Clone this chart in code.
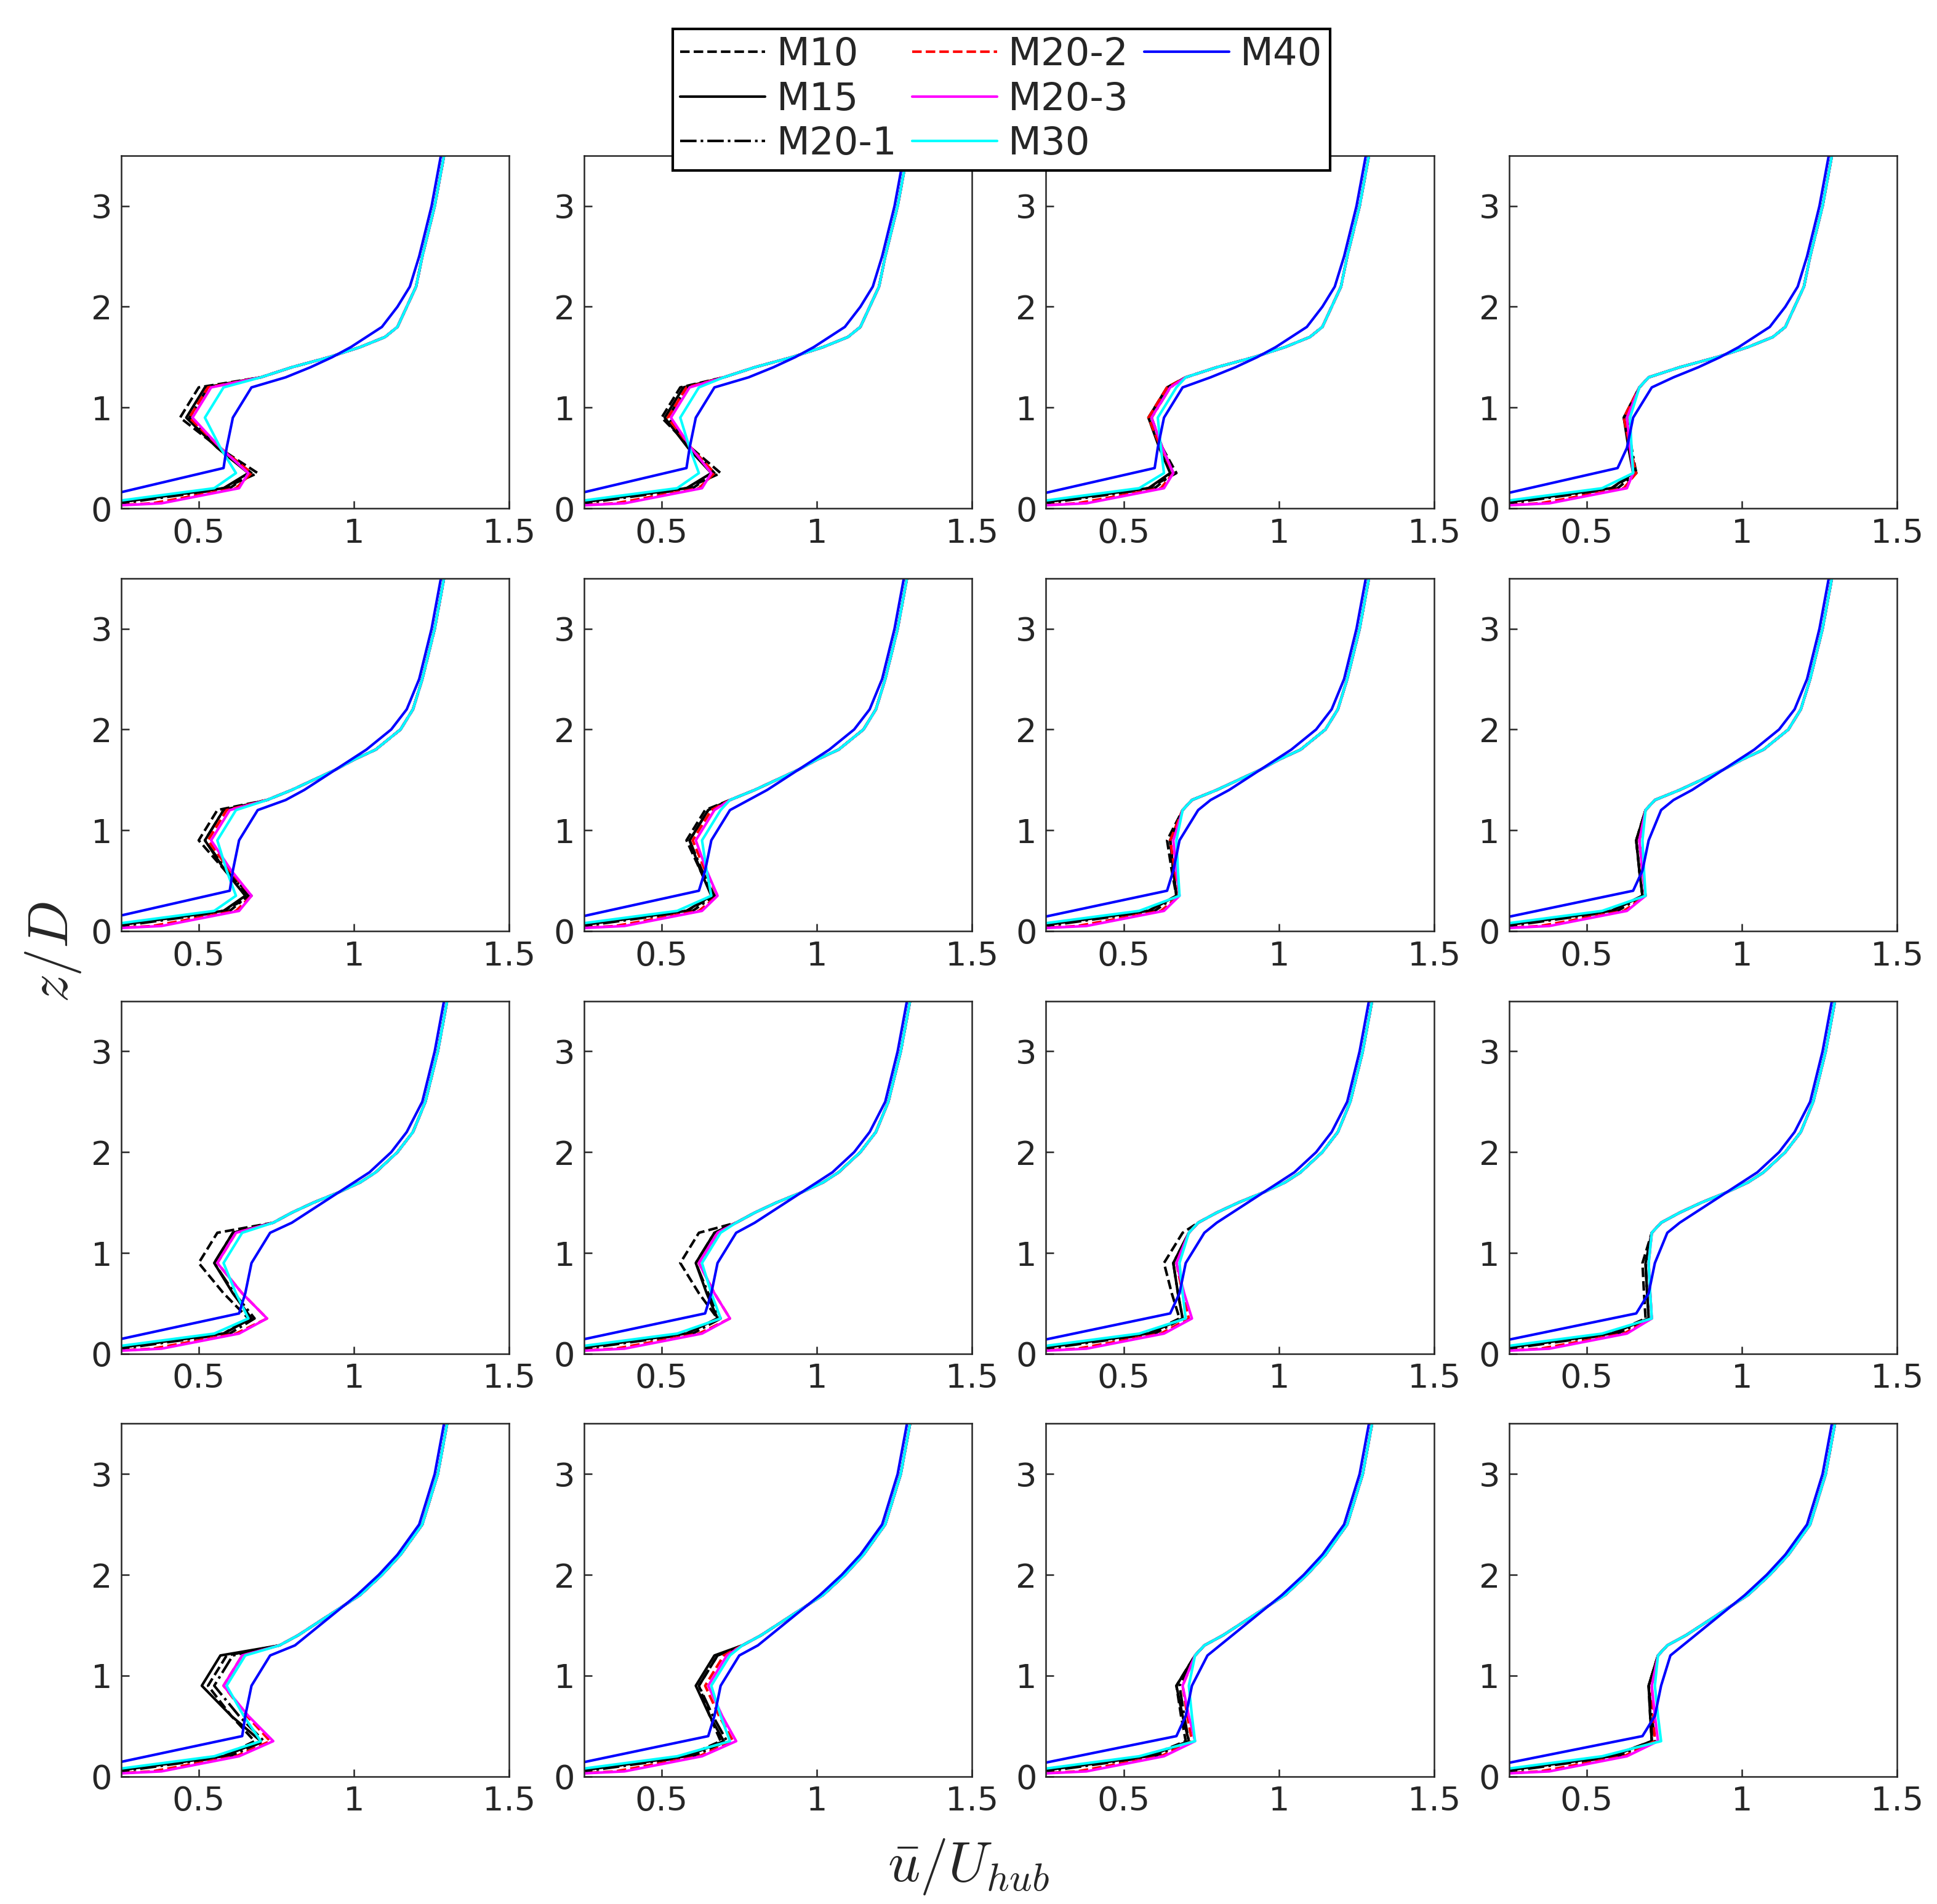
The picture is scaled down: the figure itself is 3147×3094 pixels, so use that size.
import numpy as np, pandas as pd, matplotlib
matplotlib.use("Agg")
import matplotlib.pyplot as plt, seaborn as sns
from matplotlib.lines import Line2D

series = ["M10","M15","M20-1","M20-2","M20-3","M30","M40"]
colors = ["black","black","black","red","magenta","cyan","blue"]
styles = ["--","-","-.","--","-","-","-"]
# wake minimum (z~0.9) per series, per panel (row-major 16 panels)
u_min = {
 "M10":  [0.44,0.50,0.58,0.62, 0.50,0.58,0.64,0.66, 0.50,0.56,0.63,0.68, 0.53,0.62,0.67,0.70],
 "M15":  [0.46,0.51,0.58,0.62, 0.52,0.59,0.65,0.66, 0.55,0.61,0.66,0.69, 0.51,0.61,0.67,0.70],
 "M20-1":[0.47,0.52,0.59,0.63, 0.52,0.59,0.65,0.66, 0.55,0.61,0.66,0.69, 0.55,0.62,0.68,0.70],
 "M20-2":[0.47,0.52,0.58,0.62, 0.53,0.60,0.65,0.67, 0.56,0.62,0.67,0.70, 0.58,0.64,0.69,0.71],
 "M20-3":[0.48,0.53,0.59,0.63, 0.54,0.61,0.66,0.67, 0.56,0.62,0.67,0.70, 0.58,0.65,0.69,0.71],
 "M30":  [0.52,0.56,0.61,0.64, 0.56,0.63,0.67,0.68, 0.58,0.63,0.68,0.70, 0.59,0.66,0.71,0.72],
 "M40":  [0.59,0.59,0.61,0.63, 0.61,0.64,0.66,0.68, 0.65,0.66,0.68,0.70, 0.65,0.67,0.70,0.72],
}
# near-wall bump (z~0.35) per series, per panel
u_bump = {
 "M10":  [0.69,0.69,0.67,0.66, 0.67,0.67,0.67,0.68, 0.66,0.68,0.68,0.69, 0.68,0.69,0.70,0.71],
 "M15":  [0.66,0.66,0.65,0.65, 0.65,0.66,0.67,0.68, 0.67,0.68,0.69,0.70, 0.70,0.70,0.71,0.71],
 "M20-1":[0.67,0.67,0.66,0.66, 0.66,0.67,0.67,0.68, 0.68,0.69,0.69,0.70, 0.71,0.71,0.71,0.72],
 "M20-2":[0.67,0.67,0.66,0.66, 0.67,0.68,0.68,0.69, 0.72,0.72,0.71,0.71, 0.73,0.73,0.72,0.72],
 "M20-3":[0.66,0.66,0.66,0.65, 0.67,0.68,0.68,0.69, 0.72,0.72,0.72,0.71, 0.74,0.74,0.73,0.73],
 "M30":  [0.62,0.62,0.63,0.65, 0.62,0.66,0.68,0.69, 0.66,0.69,0.70,0.71, 0.70,0.72,0.73,0.74],
 "M40":  [0.58,0.58,0.60,0.60, 0.60,0.62,0.64,0.65, 0.63,0.64,0.65,0.66, 0.64,0.65,0.67,0.68],
}
# upper profile per row
z_up = [1.3, 1.4, 1.5, 1.6, 1.7, 1.8, 2.0, 2.2, 2.5, 3.0, 3.5]
u_up = [[0.70,0.80,0.92,1.02,1.10,1.14,1.17,1.20,1.22,1.26,1.29],
        [0.72,0.80,0.87,0.94,1.00,1.07,1.15,1.19,1.22,1.26,1.29],
        [0.74,0.80,0.87,0.95,1.02,1.07,1.14,1.19,1.23,1.27,1.30],
        [0.76,0.82,0.87,0.92,0.97,1.02,1.09,1.15,1.22,1.27,1.30]]
u_up_m40 = [[0.78,0.86,0.93,0.99,1.04,1.09,1.14,1.18,1.21,1.25,1.28],
            [0.78,0.84,0.89,0.94,0.99,1.04,1.12,1.17,1.21,1.25,1.28],
            [0.80,0.85,0.90,0.95,1.00,1.05,1.12,1.17,1.22,1.26,1.29],
            [0.81,0.85,0.89,0.93,0.97,1.01,1.08,1.14,1.21,1.26,1.29]]
z_low = [0.0, 0.05, 0.2, 0.35, 0.6, 0.9, 1.2]
z_low_m40 = [0.0, 0.4, 0.6, 0.9, 1.2]
u_bottom = {"M10":[0.05,0.22,0.58],"M15":[0.05,0.22,0.58],"M20-1":[0.05,0.25,0.6],
            "M20-2":[0.05,0.35,0.62],"M20-3":[0.05,0.38,0.63],"M30":[0.03,0.18,0.55]}

rows = []
for p in range(16):
    r = p // 4
    for s in series:
        if s == "M40":
            zz = z_low_m40 + z_up
            up = u_up_m40[r]
            mid = min(u_min[s][p] + 0.08, up[0] - 0.04)
            uu = [0.03, u_bump[s][p], u_min[s][p], u_min[s][p]+0.02, mid] + up
        else:
            zz = z_low + z_up
            up = u_up[r]
            mid = min(u_min[s][p] + 0.06, up[0] - 0.03)
            uu = u_bottom[s] + [u_bump[s][p], (u_bump[s][p]+u_min[s][p])/2, u_min[s][p], mid] + up
        for k, (z, u) in enumerate(zip(zz, uu)):
            rows.append(dict(panel=p, series=s, z=z, u=u, order=k))
df = pd.DataFrame(rows)

sns.set_style("ticks")
plt.rcParams["mathtext.fontset"] = "cm"
fig = plt.figure(figsize=(3147/300, 3094/300), dpi=300)
W, H = 0.2004, 0.1853
lefts = [0.0625, 0.3015, 0.5400, 0.7790]
bottoms = [0.733, 0.511, 0.289, 0.067]
for p in range(16):
    r, c = divmod(p, 4)
    ax = fig.add_axes([lefts[c], bottoms[r], W, H])
    d = df[df.panel == p]
    for s, col, ls in zip(series, colors, styles):
        ds = d[d.series == s].sort_values("order")
        sns.lineplot(data=ds, x="u", y="z", sort=False, estimator=None, ax=ax,
                     color=col, linestyle=ls, linewidth=1.0, legend=False)
    ax.set_xlim(0.25, 1.5); ax.set_ylim(0, 3.5)
    ax.set_xticks([0.5, 1, 1.5]); ax.set_xticklabels(["0.5", "1", "1.5"])
    ax.set_yticks([0, 1, 2, 3])
    ax.tick_params(direction="in", labelsize=13, length=3, width=0.6)
    ax.set_xlabel(""); ax.set_ylabel("")
    for sp in ax.spines.values(): sp.set_linewidth(0.6)

handles = [Line2D([], [], color=c, linestyle=l, linewidth=1.0) for c, l in zip(colors, styles)]
labels = list(series)
handles += [Line2D([], [], alpha=0), Line2D([], [], alpha=0)]
labels += ["", ""]
fig.legend(handles, labels, ncol=3, loc="upper center", bbox_to_anchor=(0.517, 0.995),
           fontsize=15, frameon=True, fancybox=False, edgecolor="black", framealpha=1,
           handlelength=2.2, columnspacing=0.4, handletextpad=0.3, borderpad=0.2, labelspacing=0.2)
fig.text(0.5, 0.012, r"$\bar{u}/U_{hub}$", ha="center", fontsize=22)
fig.text(0.012, 0.5, r"$z/D$", va="center", rotation=90, fontsize=22)
fig.savefig("out.png", dpi=300)
